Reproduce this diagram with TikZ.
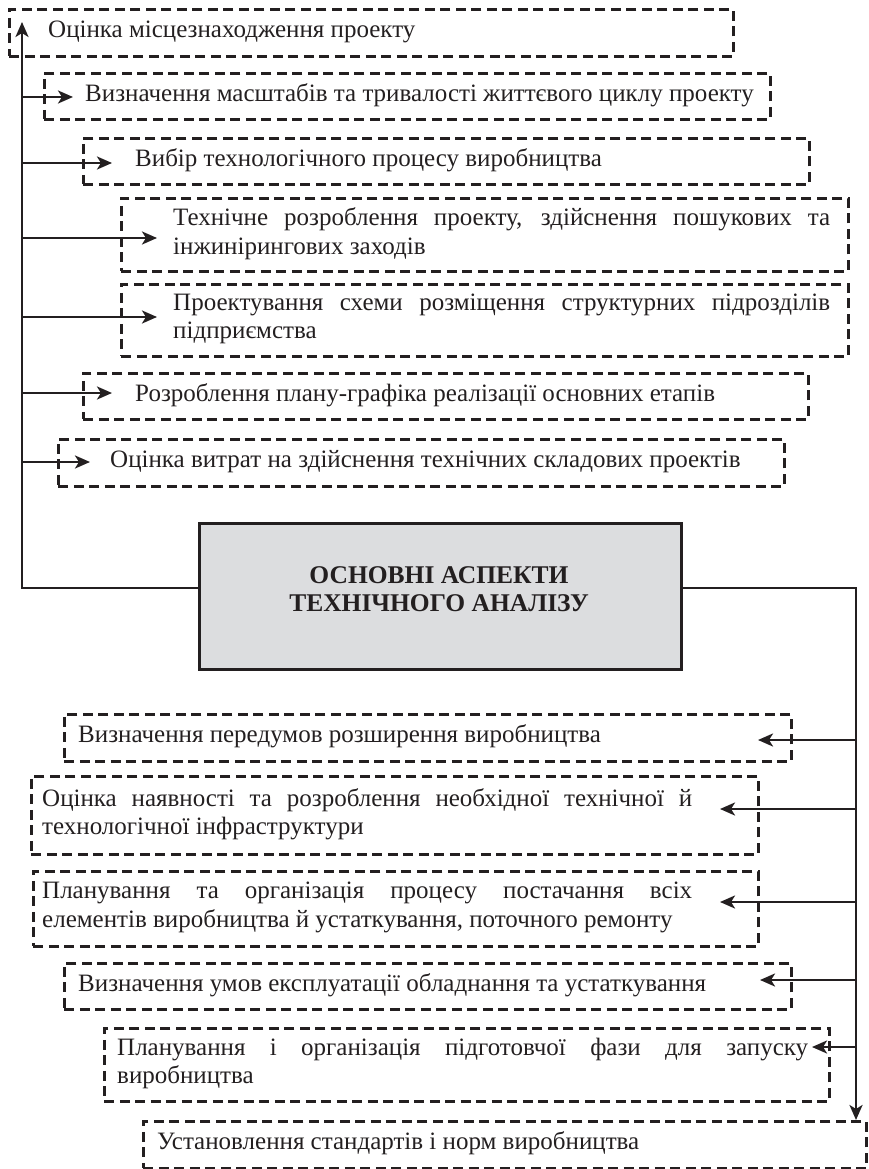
\documentclass[tikz,border=0pt]{standalone}
\usepackage{fontspec}
\setmainfont{Liberation Serif}
\usetikzlibrary{arrows.meta}
\definecolor{ink}{HTML}{231F20}
\definecolor{boxgray}{HTML}{DCDDDF}
\tikzset{
 dbox/.style={draw=ink, line width=2.8pt, dash pattern=on 10pt off 5.5pt, anchor=north west, inner sep=0pt},
 txt/.style={anchor=west, inner sep=0pt, text=ink, font=\fontsize{25}{28.5}\selectfont},
 ptxt/.style={txt, align=justify},
 conn/.style={draw=ink, line width=2.6pt},
 arr/.style={conn, -{Stealth[length=15pt,width=13pt,inset=4pt]}},
 mainbox/.style={draw=ink, line width=3.4pt, fill=boxgray, anchor=north west, inner sep=0pt},
 maintxt/.style={inner sep=0pt, text=ink, align=center, font=\fontsize{25.5}{28.5}\selectfont\bfseries},
}
\begin{document}
\begin{tikzpicture}[x=1pt,y=-1pt]
\useasboundingbox (0,0) rectangle (869,1169);
% upper boxes
\node[dbox, minimum width=724pt, minimum height=47pt] (b1) at (8,8) {};
\node[dbox, minimum width=726pt, minimum height=46pt] (b2) at (43,72) {};
\node[dbox, minimum width=726pt, minimum height=46pt] (b3) at (82,137) {};
\node[dbox, minimum width=727pt, minimum height=73pt] (b4) at (120,197) {};
\node[dbox, minimum width=727pt, minimum height=72pt] (b5) at (120,283) {};
\node[dbox, minimum width=725pt, minimum height=46pt] (b6) at (82,372) {};
\node[dbox, minimum width=726pt, minimum height=47pt] (b7) at (57,438) {};
\node[txt] (t1) at (48,31.5) {Оцінка місцезнаходження проекту};
\node[txt] (t2) at (85,95) {Визначення масштабів та тривалості життєвого циклу проекту};
\node[txt] (t3) at (135,160) {Вибір технологічного процесу виробництва};
\node[ptxt, text width=657pt] (t4) at (173,233.5) {Технічне розроблення проекту, здійснення пошукових та\linebreak інжинірингових заходів};
\node[ptxt, text width=657pt] (t5) at (173,319) {Проектування схеми розміщення структурних підрозділів\linebreak підприємства};
\node[txt] (t6) at (135,395) {Розроблення плану-графіка реалізації основних етапів};
\node[txt] (t7) at (110,461.5) {Оцінка витрат на здійснення технічних складових проектів};
% central box
\node[mainbox, minimum width=482pt, minimum height=146pt] (main) at (198,522) {};
\node[maintxt] (maint) at (439,589) {ОСНОВНІ АСПЕКТИ\\ТЕХНІЧНОГО АНАЛІЗУ};
% lower boxes
\node[dbox, minimum width=727pt, minimum height=47pt] (c1) at (63,713) {};
\node[dbox, minimum width=727pt, minimum height=78pt] (c2) at (30,775) {};
\node[dbox, minimum width=725pt, minimum height=75pt] (c3) at (32,870) {};
\node[dbox, minimum width=727pt, minimum height=46pt] (c4) at (63,962) {};
\node[dbox, minimum width=725pt, minimum height=73pt] (c5) at (103,1027) {};
\node[dbox, minimum width=723pt, minimum height=47pt] (c6) at (142,1120) {};
\node[txt] (u1) at (78,736.5) {Визначення передумов розширення виробництва};
\node[ptxt, text width=650pt] (u2) at (42,814) {Оцінка наявності та розроблення необхідної технічної й\linebreak технологічної інфраструктури};
\node[ptxt, text width=650pt] (u3) at (42,907.5) {Планування та організація процесу постачання всіх\linebreak елементів виробництва й устаткування, поточного ремонту};
\node[txt] (u4) at (78,985) {Визначення умов експлуатації обладнання та устаткування};
\node[ptxt, text width=691pt] (u5) at (117,1063.5) {Планування і організація підготовчої фази для запуску\linebreak виробництва};
\node[txt] (u6) at (157,1143.5) {Установлення стандартів і норм виробництва};
% connector coordinates
\coordinate (lt) at (22,588);
\coordinate (ltop) at (22,22);
\coordinate (a2) at (73,97);
\coordinate (a3) at (112,163);
\coordinate (a4) at (157,238);
\coordinate (a5) at (157,317);
\coordinate (a6) at (112,393);
\coordinate (a7) at (90,462);
\coordinate (rt) at (856,588);
\coordinate (rbot) at (856,1120);
\coordinate (r1) at (758,740);
\coordinate (r2) at (720,809);
\coordinate (r3) at (720,902);
\coordinate (r4) at (760,980);
\coordinate (r5) at (812,1047);
% left connectors
\draw[arr] (main.west |- lt) -- (lt) -- (ltop);
\foreach \p in {a2,a3,a4,a5,a6,a7} \draw[arr] (lt |- \p) -- (\p);
% right connectors
\draw[arr] (main.east |- rt) -- (rt) -- (rbot);
\foreach \p in {r1,r2,r3,r4,r5} \draw[arr] (rt |- \p) -- (\p);
\end{tikzpicture}
\end{document}
